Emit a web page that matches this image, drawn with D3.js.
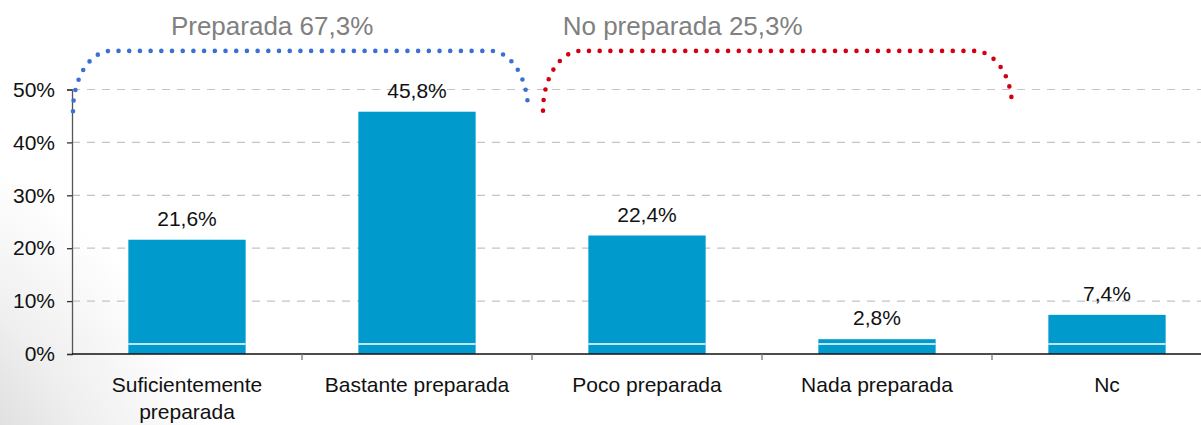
<!DOCTYPE html>
<html>
<head>
<meta charset="utf-8">
<script src="https://cdn.jsdelivr.net/npm/d3@7"></script>
<style>
  html, body { margin: 0; padding: 0; background: #fff; }
  svg { display: block; font-family: "Liberation Sans", Arial, sans-serif; }
</style>
</head>
<body>
<svg id="chart" width="1201" height="425"></svg>
<script>
// Survey answers: how prepared respondents feel
const categories = ["Suficientemente preparada", "Bastante preparada", "Poco preparada", "Nada preparada", "Nc"];
const values = [0.216, 0.458, 0.224, 0.028, 0.074];
const yTicks = [0, 0.1, 0.2, 0.3, 0.4, 0.5];

// Grouped totals shown above the bars
const groupLabels = ["Preparada 67,3%", "No preparada 25,3%"];
const groupColors = ["#3a6fd6", "#d4000f"];

const W = 1201, H = 425;
const svg = d3.select("#chart");

const locale = d3.formatLocale({ decimal: ",", thousands: ".", grouping: [3], currency: ["", "€"] });
const fmtValue = locale.format(".1%");
const fmtTick = locale.format(".0%");

// Soft grey shading rising from the lower-left corner
const defs = svg.append("defs");
const grad = defs.append("radialGradient").attr("id", "bgShade")
  .attr("gradientUnits", "userSpaceOnUse")
  .attr("cx", -200).attr("cy", 550).attr("r", 430);
grad.append("stop").attr("offset", "0.45").attr("stop-color", "#d8d8d8");
grad.append("stop").attr("offset", "0.72").attr("stop-color", "#efefef");
grad.append("stop").attr("offset", "1").attr("stop-color", "#ffffff");
svg.append("rect").attr("width", W).attr("height", H).attr("fill", "url(#bgShade)");

// Plot area: five equal bands, the last one running past the right edge
const left = 72, bandW = 230;
const x = d3.scaleBand().domain(categories).range([left, left + bandW * categories.length])
  .paddingInner(0.49).paddingOuter(0.245);
const y = d3.scaleLinear().domain([0, 0.5]).range([354, 89.5]);

// Dashed gridlines
svg.append("g").selectAll("line").data(yTicks.filter(d => d > 0)).join("line")
  .attr("x1", left).attr("x2", W)
  .attr("y1", d => y(d)).attr("y2", d => y(d))
  .attr("stroke", "#c4c4c4").attr("stroke-width", 1.2)
  .attr("stroke-dasharray", "8 7");

// Bars
svg.append("g").selectAll("rect").data(values).join("rect")
  .attr("x", (d, i) => x(categories[i]))
  .attr("width", x.bandwidth())
  .attr("y", d => y(d))
  .attr("height", d => y(0) - y(d))
  .attr("fill", "#009acd");

// Thin white rule near the base of each bar
svg.append("g").selectAll("line").data(values).join("line")
  .attr("x1", (d, i) => x(categories[i]))
  .attr("x2", (d, i) => x(categories[i]) + x.bandwidth())
  .attr("y1", y(0.019)).attr("y2", y(0.019))
  .attr("stroke", "#ffffff").attr("stroke-width", 1.5);

// Value labels
svg.append("g").selectAll("text").data(values).join("text")
  .attr("x", (d, i) => x(categories[i]) + x.bandwidth() / 2)
  .attr("y", d => y(d) - 14)
  .attr("text-anchor", "middle")
  .attr("font-size", 21)
  .attr("fill", "#111")
  .text(d => fmtValue(d));

// Y axis
const yAxis = svg.append("g").attr("transform", `translate(${left},0)`)
  .call(d3.axisLeft(y).tickValues(yTicks).tickFormat(fmtTick).tickSize(5).tickPadding(12));
yAxis.select(".domain").attr("stroke", "#555").attr("stroke-width", 1.3);
yAxis.selectAll(".tick line").attr("stroke", "#333").attr("stroke-width", 1.3);
yAxis.selectAll(".tick text").attr("font-size", 21).attr("fill", "#111")
  .attr("font-family", "Liberation Sans, Arial, sans-serif");

// X axis baseline with separators between categories
svg.append("line").attr("x1", left).attr("x2", W).attr("y1", y(0)).attr("y2", y(0))
  .attr("stroke", "#111").attr("stroke-width", 1.6);
const seps = d3.range(1, categories.length).map(i => left + bandW * i);
svg.append("g").selectAll("line").data(seps).join("line")
  .attr("x1", d => d).attr("x2", d => d)
  .attr("y1", y(0)).attr("y2", y(0) + 6)
  .attr("stroke", "#777").attr("stroke-width", 1.3);

// Category labels, wrapped to fit the band
const catG = svg.append("g");
categories.forEach(name => {
  const cx = x(name) + x.bandwidth() / 2;
  const t = catG.append("text")
    .attr("x", cx)
    .attr("y", 392)
    .attr("text-anchor", "middle")
    .attr("font-size", 21)
    .attr("fill", "#111");
  const words = name.split(" ");
  let line = [];
  let tspan = t.append("tspan").attr("x", cx).attr("dy", 0);
  words.forEach(w => {
    line.push(w);
    tspan.text(line.join(" "));
    if (tspan.node().getComputedTextLength() > 215 && line.length > 1) {
      line.pop();
      tspan.text(line.join(" "));
      line = [w];
      tspan = t.append("tspan").attr("x", cx).attr("dy", 27).text(w);
    }
  });
});

// Dotted brackets grouping the answers
function bracket(x0, x1, vTop, vFoot0, vFoot1, rx) {
  const yt = y(vTop), y0 = y(vFoot0), y1 = y(vFoot1);
  return `M${x0},${y0} A${rx},${y0 - yt} 0 0 1 ${x0 + rx},${yt} L${x1 - rx},${yt} A${rx},${y1 - yt} 0 0 1 ${x1},${y1}`;
}
const brackets = [
  { x0: left + 1, x1: left + bandW * 2 - 4, foot0: 0.459, foot1: 0.460 },
  { x0: left + bandW * 2 + 11, x1: left + bandW * 4 + 20, foot0: 0.460, foot1: 0.467 }
];
svg.append("g").selectAll("path").data(brackets).join("path")
  .attr("d", b => bracket(b.x0, b.x1, 0.573, b.foot0, b.foot1, 38))
  .attr("fill", "none")
  .attr("stroke", (d, i) => groupColors[i])
  .attr("stroke-width", 4.6)
  .attr("stroke-linecap", "round")
  .attr("stroke-dasharray", "0 10.7");

// Group totals above the brackets
const groupCenters = [left + bandW * 0.87, left + bandW * 2.655];
svg.append("g").selectAll("text").data(groupLabels).join("text")
  .attr("x", (d, i) => groupCenters[i])
  .attr("y", 35)
  .attr("text-anchor", "middle")
  .attr("font-size", 26)
  .attr("fill", "#808080")
  .text(d => d);
</script>
</body>
</html>
